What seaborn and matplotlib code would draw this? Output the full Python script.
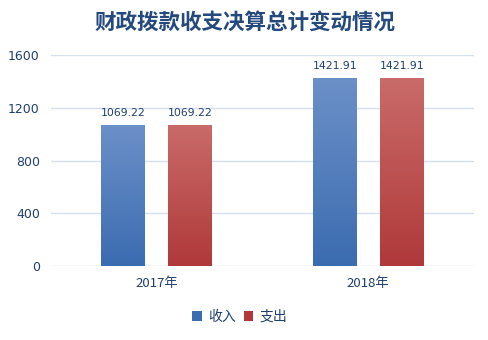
import numpy as np
import pandas as pd
import matplotlib
matplotlib.use("Agg")
import matplotlib.pyplot as plt
import seaborn as sns
from matplotlib.colors import LinearSegmentedColormap
from matplotlib.patches import Patch

years = ["2017年", "2018年"]
series = ["收入", "支出"]
income = [1069.22, 1421.91]
expense = [1069.22, 1421.91]
yticks = [0, 400, 800, 1200, 1600]

title = "财政拨款收支决算总计变动情况"
text_color = "#1F3F6E"
grid_color = "#D6E0EC"
# top / bottom colours of each series' vertical gradient
grad = {
    "收入": ("#6C90C8", "#3B6CB0"),
    "支出": ("#C96B69", "#B0393A"),
}

sns.set_theme(style="white")
plt.rcParams["font.family"] = ["Noto Sans CJK SC", "DejaVu Sans"]

df = pd.DataFrame({
    "year": years * 2,
    "kind": [series[0]] * len(years) + [series[1]] * len(years),
    "value": income + expense,
})

fig = plt.figure(figsize=(4.89, 3.40), dpi=100)
ax = fig.add_axes([51 / 489, 1 - 266 / 340, 423 / 489, 211 / 340])

palette = {k: v[1] for k, v in grad.items()}
sns.barplot(data=df, x="year", y="value", hue="kind", order=years,
            hue_order=series, palette=palette, width=0.634, gap=0.344,
            ax=ax, legend=False, errorbar=None, saturation=1)

# replace flat fills by vertical gradients clipped to each bar
for kind, container in zip(series, ax.containers):
    top, bottom = grad[kind]
    cmap = LinearSegmentedColormap.from_list(kind, [bottom, top])
    for bar, val in zip(container, df[df.kind == kind]["value"]):
        x0, w = bar.get_x(), bar.get_width()
        h = bar.get_height()
        img = ax.imshow(np.linspace(0, 1, 256).reshape(-1, 1), cmap=cmap,
                        extent=[x0, x0 + w, 0, h], origin="lower",
                        aspect="auto", zorder=bar.get_zorder())
        img.set_clip_path(bar)
        bar.set_facecolor("none")
        bar.set_edgecolor("none")
        ax.text(x0 + w / 2, h + 55, f"{val:.2f}", ha="center", va="bottom",
                fontsize=7.8, color=text_color, family=["DejaVu Sans"])

ax.set_xlim(-0.5, 1.5)
ax.set_ylim(0, 1600)
ax.set_yticks(yticks)
ax.set_yticklabels([str(t) for t in yticks], fontsize=9, color=text_color,
                   family=["DejaVu Sans"])
ax.tick_params(axis="x", labelsize=9.5, labelcolor=text_color, length=0, pad=8)
ax.tick_params(axis="y", length=0, pad=8)
ax.set_xlabel("")
ax.set_ylabel("")
ax.grid(axis="y", color=grid_color, linewidth=1)
ax.set_axisbelow(True)
for s in ax.spines.values():
    s.set_visible(False)

fig.text(0.5, 1 - 22 / 340, title, ha="center", va="center", fontsize=15.5,
         fontweight="bold", color="#24497D")

handles = [Patch(facecolor=grad[k][1], edgecolor="none") for k in series]
fig.legend(handles, series, loc="center", bbox_to_anchor=(0.49, 1 - 317 / 340),
           ncol=2, frameon=False, fontsize=10, labelcolor=text_color,
           handlelength=0.7, handleheight=0.7, handletextpad=0.4,
           columnspacing=0.6)

fig.savefig("out.png", dpi=100)
